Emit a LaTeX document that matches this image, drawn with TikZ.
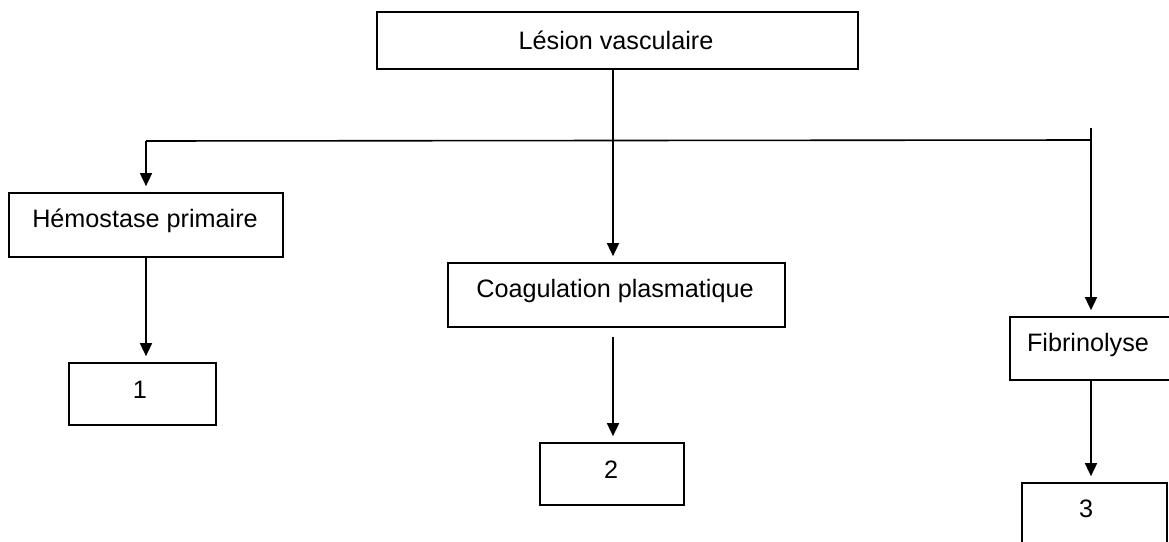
\documentclass[tikz,border=0pt]{standalone}
\usepackage{fontspec}
\setmainfont{Liberation Sans}
\usetikzlibrary{arrows.meta}
\begin{document}
\begin{tikzpicture}[x=1pt,y=-1pt,
  box/.style={draw, line width=1.7pt, rectangle, inner sep=0pt},
  lbl/.style={font=\fontsize{25.2}{28}\selectfont, inner sep=0pt},
  line/.style={line width=1.6pt},
  arr/.style={line width=1.6pt, -{Triangle[length=13pt,width=12pt]}, shorten >=6pt}]
\useasboundingbox (0,0) rectangle (1169,541);
% boxes
\node[box, minimum width=481pt, minimum height=57pt] (top) at (617.5,40.5) {};
\node[lbl] (topt) at (616,40) {Lésion vasculaire};
\node[box, minimum width=274pt, minimum height=64pt] (hem) at (146,225) {};
\node[lbl] (hemt) at (145,221) {Hémostase primaire};
\node[box, minimum width=147pt, minimum height=62pt] (b1) at (142.5,394) {};
\node[lbl] (b1t) at (140,390) {1};
\node[box, minimum width=337pt, minimum height=64pt] (coag) at (616.5,295) {};
\node[lbl] (coagt) at (615,291) {Coagulation plasmatique};
\node[box, minimum width=144pt, minimum height=62pt] (b2) at (612,474) {};
\node[lbl] (b2t) at (611,470) {2};
\node[box, minimum width=180pt, minimum height=63pt] (fib) at (1100,348.5) {};
\node[lbl] (fibt) at (1088,345) {Fibrinolyse};
\node[box, minimum width=145pt, minimum height=64pt] (b3) at (1094.5,515) {};
\node[lbl] (b3t) at (1086,509) {3};
% junctions
\coordinate (j) at (613,140);
\coordinate (L) at (146,141);
\coordinate (R) at (1091,140);
\coordinate (Rt) at (1091,128);
% connectors
\draw[line] (L) -- (R);
\draw[line] (top.south -| j) -- (j);
\draw[arr] (j) -- (j |- coag.north);
\draw[arr] (L) -- (L |- hem.north);
\draw[arr] (Rt) -- (Rt |- fib.north);
\draw[arr] (hem.south -| L) -- (L |- b1.north);
\draw[arr] ([yshift=-9pt]coag.south -| j) -- (j |- b2.north);
\draw[arr] (fib.south -| Rt) -- (Rt |- b3.north);
\end{tikzpicture}
\end{document}
